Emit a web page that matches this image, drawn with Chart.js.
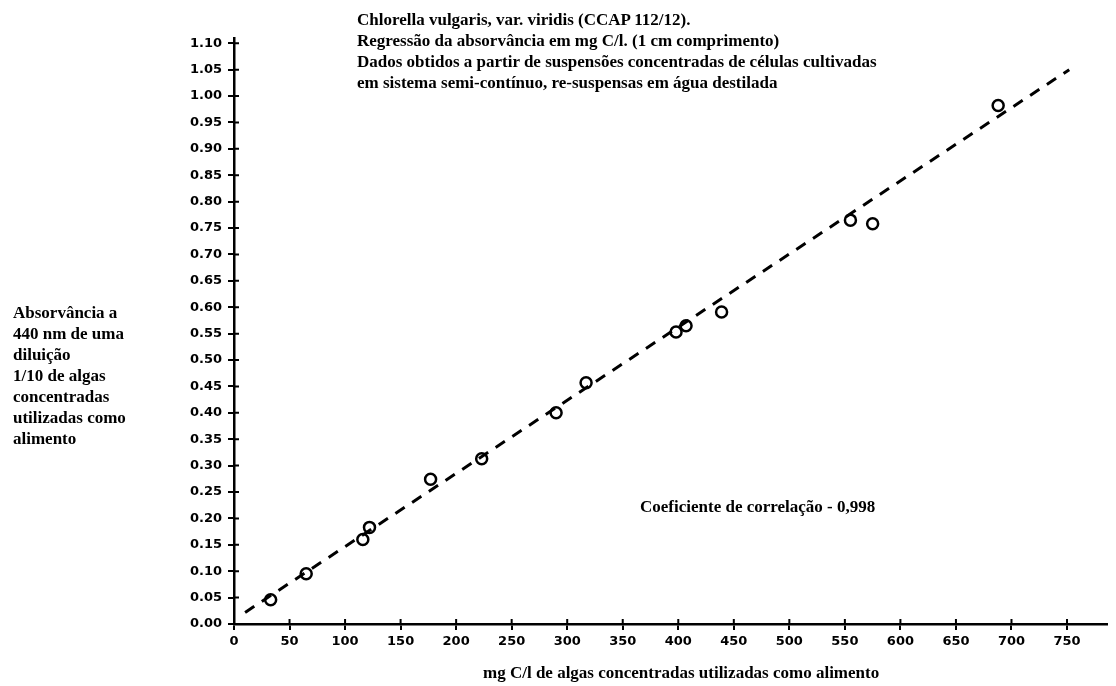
<!DOCTYPE html>
<html lang="pt">
<head>
<meta charset="UTF-8">
<title>Chlorella vulgaris - absorvância</title>
<script src="https://cdn.jsdelivr.net/npm/chart.js"></script>
<style>
  body { margin: 0; background: #fff; }
  #wrap { position: relative; width: 1116px; height: 686px; }
  .txt { position: absolute; font-family: "Liberation Serif", "Times New Roman", serif;
         font-weight: bold; font-size: 17px; line-height: 21px; color: #000; white-space: nowrap; }
</style>
</head>
<body>
<div id="wrap">
  <canvas id="myChart" width="1116" height="686"></canvas>
  <div class="txt" style="left:357px; top:9px;">
    Chlorella vulgaris, var. viridis (CCAP 112/12).<br>
    Regressão da absorvância em mg C/l. (1 cm comprimento)<br>
    Dados obtidos a partir de suspensões concentradas de células cultivadas<br>
    em sistema semi-contínuo, re-suspensas em água destilada
  </div>
  <div class="txt" style="left:13px; top:302px;">
    Absorvância a<br>440 nm de uma<br>diluição<br>1/10 de algas<br>concentradas<br>utilizadas como<br>alimento
  </div>
  <div class="txt" style="left:640px; top:496px;">Coeficiente de correlação - 0,998</div>
  <div class="txt" style="left:483px; top:662px;">mg C/l de algas concentradas utilizadas como alimento</div>
</div>

<script>
    // measured points (mg C/l, absorbance)
    const carbon = [33, 65, 116, 122, 177, 223, 290, 317, 398, 407, 439, 555, 575, 688];
    const absorbance = [0.046, 0.095, 0.160, 0.183, 0.274, 0.313, 0.400, 0.457, 0.553, 0.565, 0.591, 0.765, 0.758, 0.982];

    // regression line end points
    const fitX = [10, 752];
    const fitY = [0.022, 1.05];

    const points = carbon.map((x, i) => ({ x: x, y: absorbance[i] }));
    const fitLine = fitX.map((x, i) => ({ x: x, y: fitY[i] }));

    const tickFont = { family: 'DejaVu Sans', weight: 'bold', size: 13 };

    // small tick marks on the inner side of both axes, so they cross the axis like the original
    const innerTicks = {
        id: 'innerTicks',
        afterDraw(chart) {
            const c = chart.ctx;
            const xs = chart.scales.x, ys = chart.scales.y;
            c.save();
            c.strokeStyle = '#000';
            c.lineWidth = 2;
            c.beginPath();
            xs.ticks.forEach(t => {
                const px = xs.getPixelForValue(t.value);
                c.moveTo(px, ys.bottom);
                c.lineTo(px, ys.bottom - 5);
            });
            ys.ticks.forEach(t => {
                const py = ys.getPixelForValue(t.value);
                c.moveTo(xs.left, py);
                c.lineTo(xs.left + 5, py);
            });
            c.stroke();
            c.restore();
        }
    };

    const ctx = document.getElementById('myChart').getContext('2d');
    const myChart = new Chart(ctx, {
        type: 'scatter',
        data: {
            datasets: [
                {
                    label: 'Regressão',
                    data: fitLine,
                    showLine: true,
                    borderColor: '#000',
                    borderWidth: 3,
                    borderDash: [11, 9],
                    pointRadius: 0,
                    fill: false
                },
                {
                    label: 'Dados',
                    data: points,
                    pointStyle: 'circle',
                    pointRadius: 5.5,
                    pointBorderWidth: 2.5,
                    pointBorderColor: '#000',
                    pointBackgroundColor: '#fff'
                }
            ]
        },
        options: {
            responsive: false,
            animation: false,
            layout: { padding: { left: 0, top: 38, right: 9, bottom: 0 } },
            plugins: {
                legend: { display: false },
                tooltip: { enabled: false }
            },
            scales: {
                x: {
                    type: 'linear',
                    min: 0,
                    max: 786,
                    afterFit: s => { s.height = 62; },
                    border: { color: '#000', width: 2.5 },
                    grid: { drawOnChartArea: false, color: '#000', lineWidth: 2, tickLength: 6 },
                    ticks: {
                        stepSize: 50,
                        includeBounds: false,
                        color: '#000',
                        font: tickFont,
                        padding: 4,
                        maxRotation: 0,
                        callback: v => String(v)
                    }
                },
                y: {
                    type: 'linear',
                    min: 0,
                    max: 1.11,
                    afterFit: s => { s.width = 234; },
                    border: { color: '#000', width: 2.5 },
                    grid: { drawOnChartArea: false, color: '#000', lineWidth: 2, tickLength: 6 },
                    ticks: {
                        stepSize: 0.05,
                        includeBounds: false,
                        color: '#000',
                        font: tickFont,
                        padding: 6,
                        callback: v => Number(v).toFixed(2)
                    }
                }
            }
        },
        plugins: [innerTicks]
    });
</script>
</body>
</html>
